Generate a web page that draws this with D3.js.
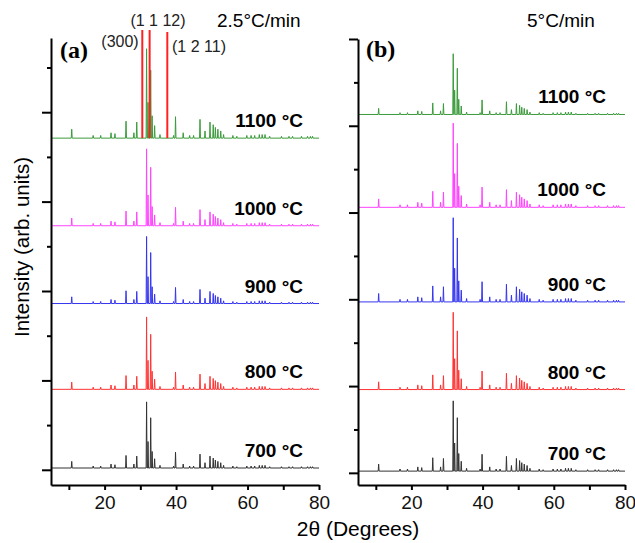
<!DOCTYPE html>
<html lang="en">
<head>
    <meta charset="UTF-8">
    <script src="https://d3js.org/d3.v7.min.js"></script>
    <title>XRD patterns</title>
    <style>
        body{
            margin: 0;
            background: #fff;
            font-family: "Liberation Sans", Arial, sans-serif;
        }
        .axis path, .axis line{
            stroke: #000;
            stroke-width: 2px;
        }
        .axis text{
            font-size: 19px;
            font-family: "Liberation Sans", Arial, sans-serif;
            fill: #111;
        }
        .temp{
            font-weight: bold;
            font-size: 19px;
        }
    </style>
</head>
<body>
<svg width="635" height="543"></svg>
<script>
// data
let temps = ["700 °C", "800 °C", "900 °C", "1000 °C", "1100 °C"]
let colors = ["#333333", "#ff3333", "#3535f0", "#ff44ff", "#3c9b3c"]
let xTicks = [10, 20, 30, 40, 50, 60, 70, 80]
// peak positions (2theta) and intensity relative to the strongest peak
let peakPos = [10.8, 16.8, 18.9, 21.8, 22.9, 26.0, 28.2, 29.0, 31.75, 32.15, 32.9, 33.3, 34.0, 35.5,
    39.3, 39.85, 42.0, 43.8, 44.9, 46.7, 48.1, 49.5, 50.4, 51.0, 51.7, 52.5, 53.3, 55.9, 57.0,
    59.8, 61.0, 62.0, 63.3, 64.1, 64.9, 66.2, 69.5, 71.6, 72.6, 75.1, 76.8, 77.6, 78.2]
let peakRel = [0.10, 0.03, 0.03, 0.06, 0.05, 0.19, 0.06, 0.18, 1.00, 0.40, 0.76, 0.25, 0.14, 0.04,
    0.03, 0.24, 0.06, 0.03, 0.03, 0.21, 0.08, 0.18, 0.15, 0.12, 0.10, 0.08, 0.04, 0.03, 0.02,
    0.03, 0.03, 0.03, 0.04, 0.04, 0.04, 0.02, 0.02, 0.02, 0.02, 0.02, 0.02, 0.02, 0.02]
// panel (a): baseline offsets and strongest-peak height, in y units
let offsetsA = [0.02, 0.90, 1.86, 2.73, 3.71]
let heightsA = [0.74, 0.81, 0.75, 0.86, 1.00]
// panel (b)
let offsetsB = [0.02, 0.96, 1.97, 3.06, 4.13]
let heightsB = [0.81, 0.89, 0.97, 0.97, 0.70]
// reference lines in panel (a)
let hklPos = [30.55, 32.6, 37.55]
let hklNames = ["(300)", "(1 1 12)", "(1 2 11)"]

let svg = d3.select("svg")
let halfWidth = 0.13

function pattern(base, h){
    let pts = [[5, base]]
    peakPos.forEach(function (p, i){
        pts.push([p - halfWidth, base])
        pts.push([p, base + h * peakRel[i]])
        pts.push([p + halfWidth, base])
    })
    pts.push([80, base])
    return pts
}

function panel(opt){
    let x = d3.scaleLinear().domain([5, 80]).range([opt.x0, opt.x1])
    let y = d3.scaleLinear().domain(opt.ydom).range([485, opt.top])
    let g = svg.append("g")

    let line = d3.line().x(d => x(d[0])).y(d => y(d[1]))
    temps.forEach(function (t, i){
        g.append("path")
            .datum(pattern(opt.offsets[i], opt.heights[i]))
            .attr("d", line)
            .attr("fill", "none")
            .attr("stroke", colors[i])
            .attr("stroke-width", 1)
            .attr("stroke-linejoin", "round")
        g.append("text")
            .attr("class", "temp")
            .attr("x", opt.labelX)
            .attr("y", y(opt.offsets[i]) - 11)
            .attr("text-anchor", "end")
            .text(t)
    })

    // x axis
    g.append("g").attr("class", "axis")
        .attr("transform", "translate(0,485)")
        .call(d3.axisBottom(x).tickValues(xTicks).tickSize(5).tickSizeOuter(0)
            .tickFormat(d => d % 20 === 0 ? d : ""))
        .call(a => a.selectAll("text").attr("dy", "0.85em"))
    // y axis, major + minor ticks, no labels
    g.append("g").attr("class", "axis")
        .attr("transform", "translate(" + opt.x0 + ",0)")
        .call(d3.axisLeft(y).tickValues(opt.major).tickSize(9).tickSizeOuter(0).tickFormat(""))
    g.append("g").attr("class", "axis")
        .attr("transform", "translate(" + opt.x0 + ",0)")
        .call(d3.axisLeft(y).tickValues(opt.minor).tickSize(4).tickSizeOuter(0).tickFormat(""))
        .call(a => a.select(".domain").remove())
    return {x: x, y: y, g: g}
}

let a = panel({x0: 51, x1: 319, top: 38, ydom: [-0.17, 4.83],
    major: [0, 1, 2, 3, 4], minor: [0.5, 1.5, 2.5, 3.5, 4.5],
    offsets: offsetsA, heights: heightsA, labelX: 303})
let b = panel({x0: 358, x1: 625, top: 39, ydom: [-0.14, 5],
    major: [0, 1, 2, 3, 4, 5], minor: [0.5, 1.5, 2.5, 3.5, 4.5],
    offsets: offsetsB, heights: heightsB, labelX: 606})

// reference lines
let lineTops = [30, 30, 32]
hklPos.forEach(function (p, i){
    a.g.append("line")
        .attr("x1", a.x(p)).attr("x2", a.x(p))
        .attr("y1", lineTops[i]).attr("y2", a.y(offsetsA[4]))
        .attr("stroke", "#ff2020")
        .attr("stroke-width", 2)
})
let hklText = [[120, 47, "middle"], [158, 26, "middle"], [172, 52, "start"]]
hklNames.forEach(function (n, i){
    svg.append("text")
        .attr("x", hklText[i][0]).attr("y", hklText[i][1])
        .attr("text-anchor", hklText[i][2])
        .attr("font-size", 16)
        .attr("fill", "#222")
        .text(n)
})

svg.append("text").attr("x", 217).attr("y", 27).attr("font-size", 19).text("2.5°C/min")
svg.append("text").attr("x", 527).attr("y", 27).attr("font-size", 19).text("5°C/min")

svg.append("text").attr("x", 60).attr("y", 58)
    .attr("font-family", "'Liberation Serif', 'Times New Roman', serif")
    .attr("font-weight", "bold").attr("font-size", 24).text("(a)")
svg.append("text").attr("x", 366).attr("y", 57)
    .attr("font-family", "'Liberation Serif', 'Times New Roman', serif")
    .attr("font-weight", "bold").attr("font-size", 24).text("(b)")

svg.append("text").attr("x", 358).attr("y", 536)
    .attr("text-anchor", "middle").attr("font-size", 21).text("2θ (Degrees)")
svg.append("text")
    .attr("transform", "translate(29,247) rotate(-90)")
    .attr("text-anchor", "middle").attr("font-size", 20.5).text("Intensity (arb. units)")
</script>
</body>
</html>
